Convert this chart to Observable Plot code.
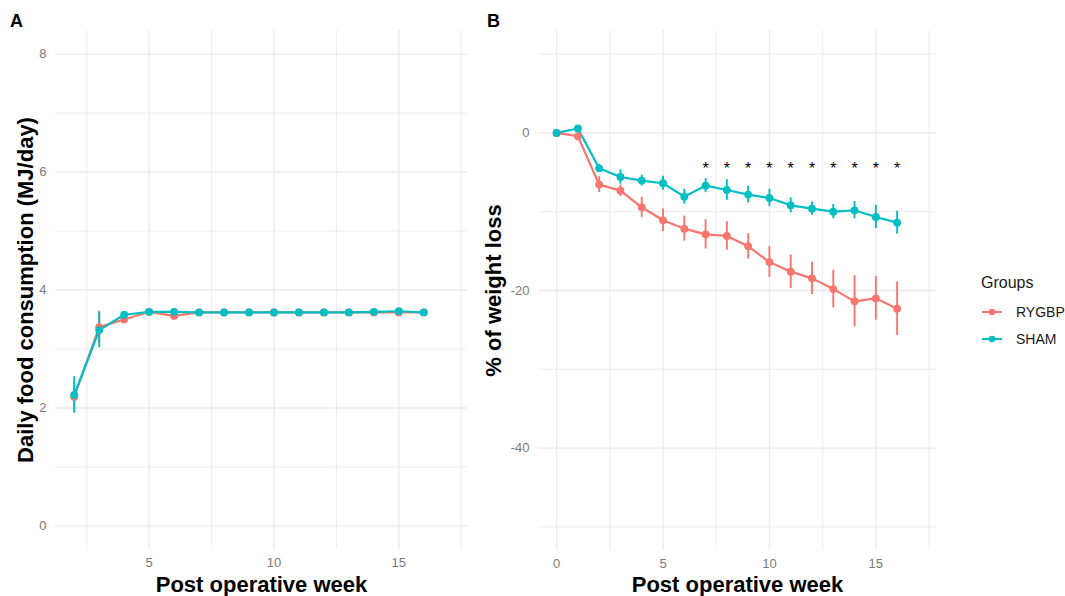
<!DOCTYPE html>
<html>
<head>
<meta charset="utf-8">
<script src="https://cdn.jsdelivr.net/npm/d3@7"></script>
<script src="https://cdn.jsdelivr.net/npm/@observablehq/plot@0.6"></script>
<style>
  html, body { margin: 0; padding: 0; background: #fff; }
  body { width: 1065px; height: 596px; position: relative; overflow: hidden;
         font-family: "Liberation Sans", Arial, Helvetica, sans-serif; }
  .panel { position: absolute; top: 0; }
  .tag { position: absolute; font-weight: bold; font-size: 18px; color: #000; }
  #legend { position: absolute; left: 981px; top: 274px; color: #1a1a1a; }
  #legend .ttl { font-size: 16px; margin-bottom: 6px; }
  #legend .row { display: flex; align-items: center; height: 27px; font-size: 14px; }
  #legend svg { margin-right: 13px; }
</style>
</head>
<body>
<div class="tag" style="left:10px; top:11px;">A</div>
<div class="tag" style="left:487px; top:11px;">B</div>
<div id="panelA" class="panel" style="left:0px;"></div>
<div id="panelB" class="panel" style="left:475px;"></div>
<div id="legend"></div>
<script>
// ---------- data ----------
const groups = ["RYGBP", "SHAM"];
const groupColors = ["#F8766D", "#00BFC4"];

// Panel A: daily food consumption (MJ/day)
const weeksA = [2, 3, 4, 5, 6, 7, 8, 9, 10, 11, 12, 13, 14, 15, 16];
const foodRYGBP   = [2.19, 3.37, 3.50, 3.63, 3.56, 3.62, 3.62, 3.62, 3.62, 3.62, 3.62, 3.62, 3.62, 3.62, 3.62];
const foodRYGBPse = [0.25, 0.27, 0.06, 0.02, 0.03, 0.02, 0.02, 0.02, 0.02, 0.02, 0.02, 0.02, 0.02, 0.02, 0.02];
const foodSHAM    = [2.22, 3.32, 3.58, 3.63, 3.63, 3.62, 3.62, 3.62, 3.62, 3.62, 3.62, 3.62, 3.63, 3.64, 3.62];
const foodSHAMse  = [0.31, 0.30, 0.04, 0.02, 0.02, 0.02, 0.02, 0.02, 0.02, 0.02, 0.02, 0.02, 0.02, 0.02, 0.02];

// Panel B: % of weight loss
const weeksB = [0, 1, 2, 3, 4, 5, 6, 7, 8, 9, 10, 11, 12, 13, 14, 15, 16];
const lossRYGBP   = [0, -0.42, -6.56, -7.33, -9.44, -11.09, -12.15, -12.87, -13.08, -14.39, -16.39, -17.61, -18.46, -19.82, -21.38, -21.0, -22.31];
const lossRYGBPse = [0.1, 0.3, 1.0, 0.74, 1.27, 1.42, 1.59, 1.86, 1.80, 1.61, 1.97, 2.12, 2.05, 2.41, 3.24, 2.77, 3.39];
const lossSHAM    = [0, 0.56, -4.49, -5.59, -6.05, -6.39, -8.09, -6.69, -7.24, -7.83, -8.26, -9.19, -9.61, -9.99, -9.82, -10.67, -11.39];
const lossSHAMse  = [0.1, 0.2, 0.49, 0.91, 0.70, 0.89, 0.95, 0.89, 1.31, 1.06, 1.12, 0.95, 0.85, 0.91, 1.10, 1.48, 1.46];

// significance markers
const sigWeeks = [7, 8, 9, 10, 11, 12, 13, 14, 15, 16];
const sigLevel = -4;

// axes
const ticksAx = [5, 10, 15], minorAx = [2.5, 7.5, 12.5, 17.5];
const ticksAy = [0, 2, 4, 6, 8], minorAy = [1, 3, 5, 7];
const ticksBx = [0, 5, 10, 15], minorBx = [2.5, 7.5, 12.5, 17.5];
const ticksBy = [-40, -20, 0], minorBy = [-50, -30, -10, 10];

const xTitle = "Post operative week";
const yTitleA = "Daily food consumption (MJ/day)";
const yTitleB = "% of weight loss";

// ---------- build tables ----------
function table(weeks, a, ase, b, bse) {
  const rows = [];
  weeks.forEach((w, i) => rows.push({week: w, group: groups[0], v: a[i], lo: a[i] - ase[i], hi: a[i] + ase[i]}));
  weeks.forEach((w, i) => rows.push({week: w, group: groups[1], v: b[i], lo: b[i] - bse[i], hi: b[i] + bse[i]}));
  return rows;
}
const dataA = table(weeksA, foodRYGBP, foodRYGBPse, foodSHAM, foodSHAMse);
const dataB = table(weeksB, lossRYGBP, lossRYGBPse, lossSHAM, lossSHAMse);

const font = '"Liberation Sans", Arial, Helvetica, sans-serif';
const tickColor = "#7a7a7a";
const gridColor = "#ebebeb";

function panel({data, width, marginLeft, marginRight, marginBottom, xDomain, yDomain,
                xt, xm, yt, ym, yTitle, yTitleDx, extra = []}) {
  return Plot.plot({
    width, height: 596,
    marginTop: 30, marginBottom, marginLeft, marginRight,
    style: {fontFamily: font, background: "transparent", overflow: "visible"},
    x: {domain: xDomain},
    y: {domain: yDomain},
    color: {domain: groups, range: groupColors},
    marks: [
      Plot.gridY(ym, {stroke: gridColor, strokeOpacity: 1, strokeWidth: 0.9}),
      Plot.gridX(xm, {stroke: gridColor, strokeOpacity: 1, strokeWidth: 0.9}),
      Plot.gridY(yt, {stroke: gridColor, strokeOpacity: 1, strokeWidth: 1.4}),
      Plot.gridX(xt, {stroke: gridColor, strokeOpacity: 1, strokeWidth: 1.4}),
      Plot.axisX({ticks: xt, tickSize: 0, tickPadding: 8, fontSize: 13, color: tickColor, label: null, tickFormat: d => String(d)}),
      Plot.axisY({ticks: yt, tickSize: 0, tickPadding: 9, fontSize: 13, color: tickColor, label: null, tickFormat: d => String(d)}),
      Plot.ruleX(data, {x: "week", y1: "lo", y2: "hi", stroke: "group", strokeWidth: 1.9}),
      Plot.line(data, {x: "week", y: "v", z: "group", stroke: "group", strokeWidth: 2.2}),
      Plot.dot(data, {x: "week", y: "v", fill: "group", r: 3.9}),
      ...extra,
      Plot.text([xTitle], {text: d => d, frameAnchor: "bottom", dy: marginBottom - 12, lineAnchor: "middle",
                           textAnchor: "middle", fontSize: 22, fontWeight: "bold", fill: "#000"}),
      Plot.text([yTitle], {text: d => d, frameAnchor: "left", dx: yTitleDx, rotate: -90,
                           textAnchor: "middle", lineAnchor: "middle", fontSize: 22, fontWeight: "bold", fill: "#000"})
    ]
  });
}

document.getElementById("panelA").append(panel({
  data: dataA, width: 475, marginLeft: 55, marginRight: 8, marginBottom: 47,
  xDomain: [1.25, 17.75], yDomain: [-0.4, 8.4],
  xt: ticksAx, xm: minorAx, yt: ticksAy, ym: minorAy,
  yTitle: yTitleA, yTitleDx: -30
}));

document.getElementById("panelB").append(panel({
  data: dataB, width: 471, marginLeft: 63, marginRight: 10, marginBottom: 46,
  xDomain: [-0.85, 17.85], yDomain: [-53, 13],
  xt: ticksBx, xm: minorBx, yt: ticksBy, ym: minorBy,
  yTitle: yTitleB, yTitleDx: -45,
  extra: [Plot.text(sigWeeks, {x: d => d, y: () => sigLevel, text: () => "*", fontSize: 16, dy: 4, fill: "#000"})]
}));

// legend
const legend = document.getElementById("legend");
const t = document.createElement("div");
t.className = "ttl"; t.textContent = "Groups";
legend.append(t);
groups.forEach((g, i) => {
  const row = document.createElement("div");
  row.className = "row";
  row.innerHTML = `<svg width="22" height="10"><line x1="1" x2="21" y1="5" y2="5" stroke="${groupColors[i]}" stroke-width="2"/><circle cx="11" cy="5" r="3.3" fill="${groupColors[i]}"/></svg><span>${g}</span>`;
  legend.append(row);
});
</script>
</body>
</html>
